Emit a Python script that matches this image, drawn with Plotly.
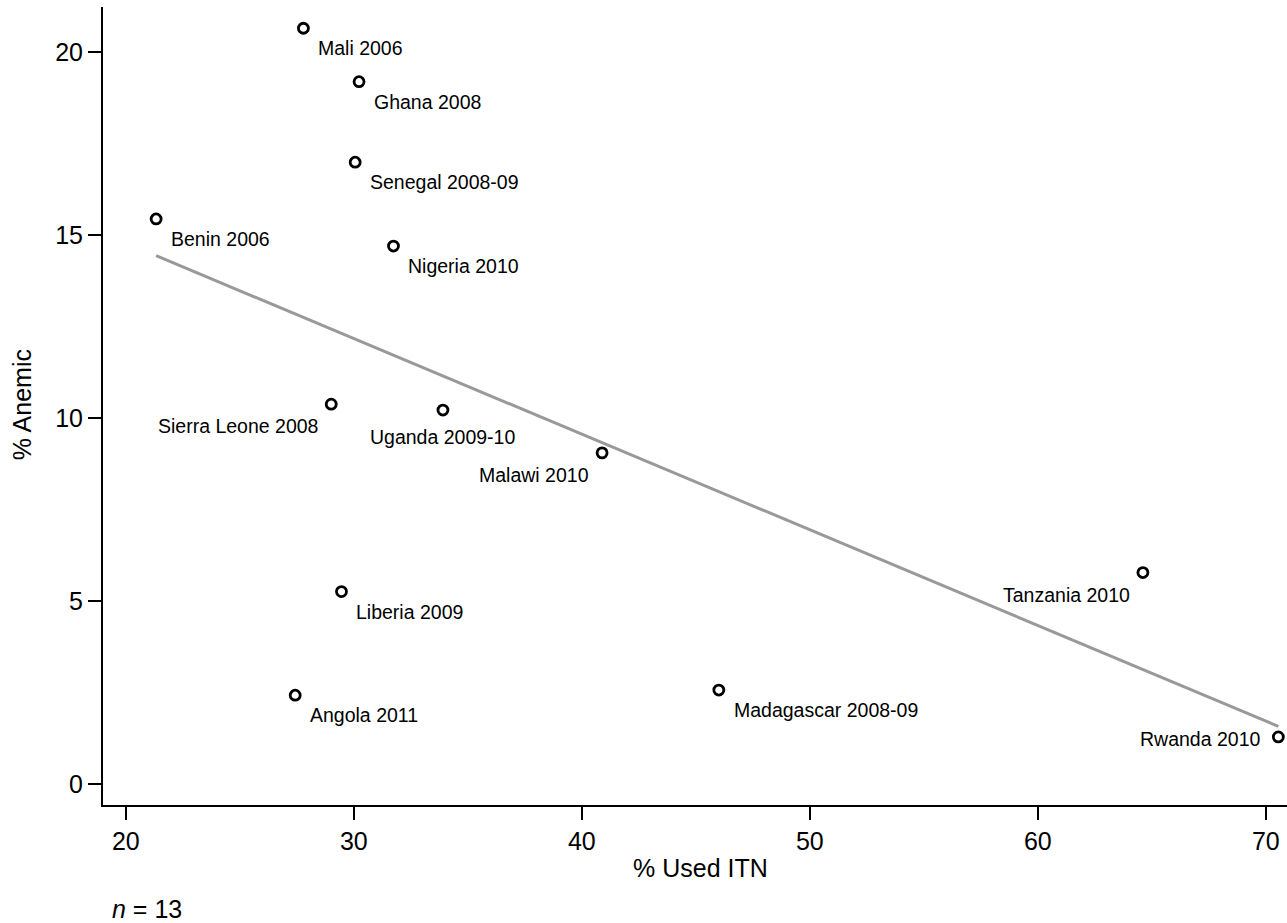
import numpy as np
import plotly.graph_objects as go

countries = ["Mali 2006", "Ghana 2008", "Senegal 2008-09", "Benin 2006", "Nigeria 2010",
             "Sierra Leone 2008", "Uganda 2009-10", "Malawi 2010", "Tanzania 2010",
             "Liberia 2009", "Angola 2011", "Madagascar 2008-09", "Rwanda 2010"]
used_itn = [27.79, 30.23, 30.06, 21.33, 31.74, 29.01, 33.91, 40.89, 64.61, 29.46, 27.43, 46.01, 70.55]
anemic = [20.65, 19.19, 16.99, 15.44, 14.70, 10.38, 10.22, 9.05, 5.78, 5.26, 2.43, 2.57, 1.29]
# label placement (clock position style as in Stata mlabpos)
label_pos = [4, 4, 4, 4, 4, 7, 6, 7, 7, 4, 4, 4, 9]

FONT = "Arial, Liberation Sans, sans-serif"

fig = go.Figure()

# linear fit
slope, intercept = np.polyfit(used_itn, anemic, 1)
xf = np.array([min(used_itn), max(used_itn)])
fig.add_trace(go.Scatter(x=xf, y=slope * xf + intercept, mode="lines",
                         line=dict(color="#999999", width=3), hoverinfo="skip",
                         showlegend=False))

fig.add_trace(go.Scatter(x=used_itn, y=anemic, mode="markers",
                         marker=dict(symbol="circle-open", size=10, color="black",
                                     line=dict(width=2.8, color="black")),
                         text=countries, showlegend=False, cliponaxis=False))

shift = {
    4: dict(xanchor="left", xshift=13, yshift=-20),
    6: dict(xanchor="center", xshift=0, yshift=-27),
    7: dict(xanchor="right", xshift=-11, yshift=-22),
    9: dict(xanchor="right", xshift=-16, yshift=-2),
}
annotations = []
for name, xv, yv, p in zip(countries, used_itn, anemic, label_pos):
    s = shift[p]
    annotations.append(dict(x=xv, y=yv, xref="x", yref="y", text=name, showarrow=False,
                            xanchor=s["xanchor"], yanchor="middle",
                            xshift=s["xshift"], yshift=s["yshift"],
                            font=dict(family=FONT, size=19.5, color="black")))

annotations.append(dict(x=0.505, y=-0.079, xref="paper", yref="paper", text="% Used ITN",
                        showarrow=False, xanchor="center", yanchor="middle",
                        font=dict(family=FONT, size=25, color="black")))
annotations.append(dict(x=-0.0684, y=0.501, xref="paper", yref="paper", text="% Anemic",
                        showarrow=False, xanchor="center", yanchor="middle", textangle=-90,
                        font=dict(family=FONT, size=25, color="black")))
annotations.append(dict(x=0.0059, y=-0.1303, xref="paper", yref="paper", text="<i>n</i> = 13",
                        showarrow=False, xanchor="left", yanchor="middle",
                        font=dict(family=FONT, size=25, color="black")))

fig.update_layout(
    width=1287, height=923,
    margin=dict(l=103, r=0, t=7, b=118),
    paper_bgcolor="white", plot_bgcolor="white",
    annotations=annotations,
    font=dict(family=FONT, color="black"),
)
fig.update_xaxes(range=[19.0, 70.93], tickvals=[20, 30, 40, 50, 60, 70],
                 showgrid=False, zeroline=False, showline=True, linecolor="black", linewidth=2,
                 ticks="outside", ticklen=13, tickwidth=2, tickcolor="black",
                 tickfont=dict(family=FONT, size=25, color="black"))
fig.update_yaxes(range=[-0.57, 21.23], tickvals=[0, 5, 10, 15, 20],
                 showgrid=False, zeroline=False, showline=True, linecolor="black", linewidth=2,
                 ticks="outside", ticklen=13, tickwidth=2, tickcolor="black",
                 tickfont=dict(family=FONT, size=25, color="black"))

fig.write_html("out.html", config={"displayModeBar": False},
               post_script="document.body.style.margin='0';document.body.style.overflow='hidden';")
